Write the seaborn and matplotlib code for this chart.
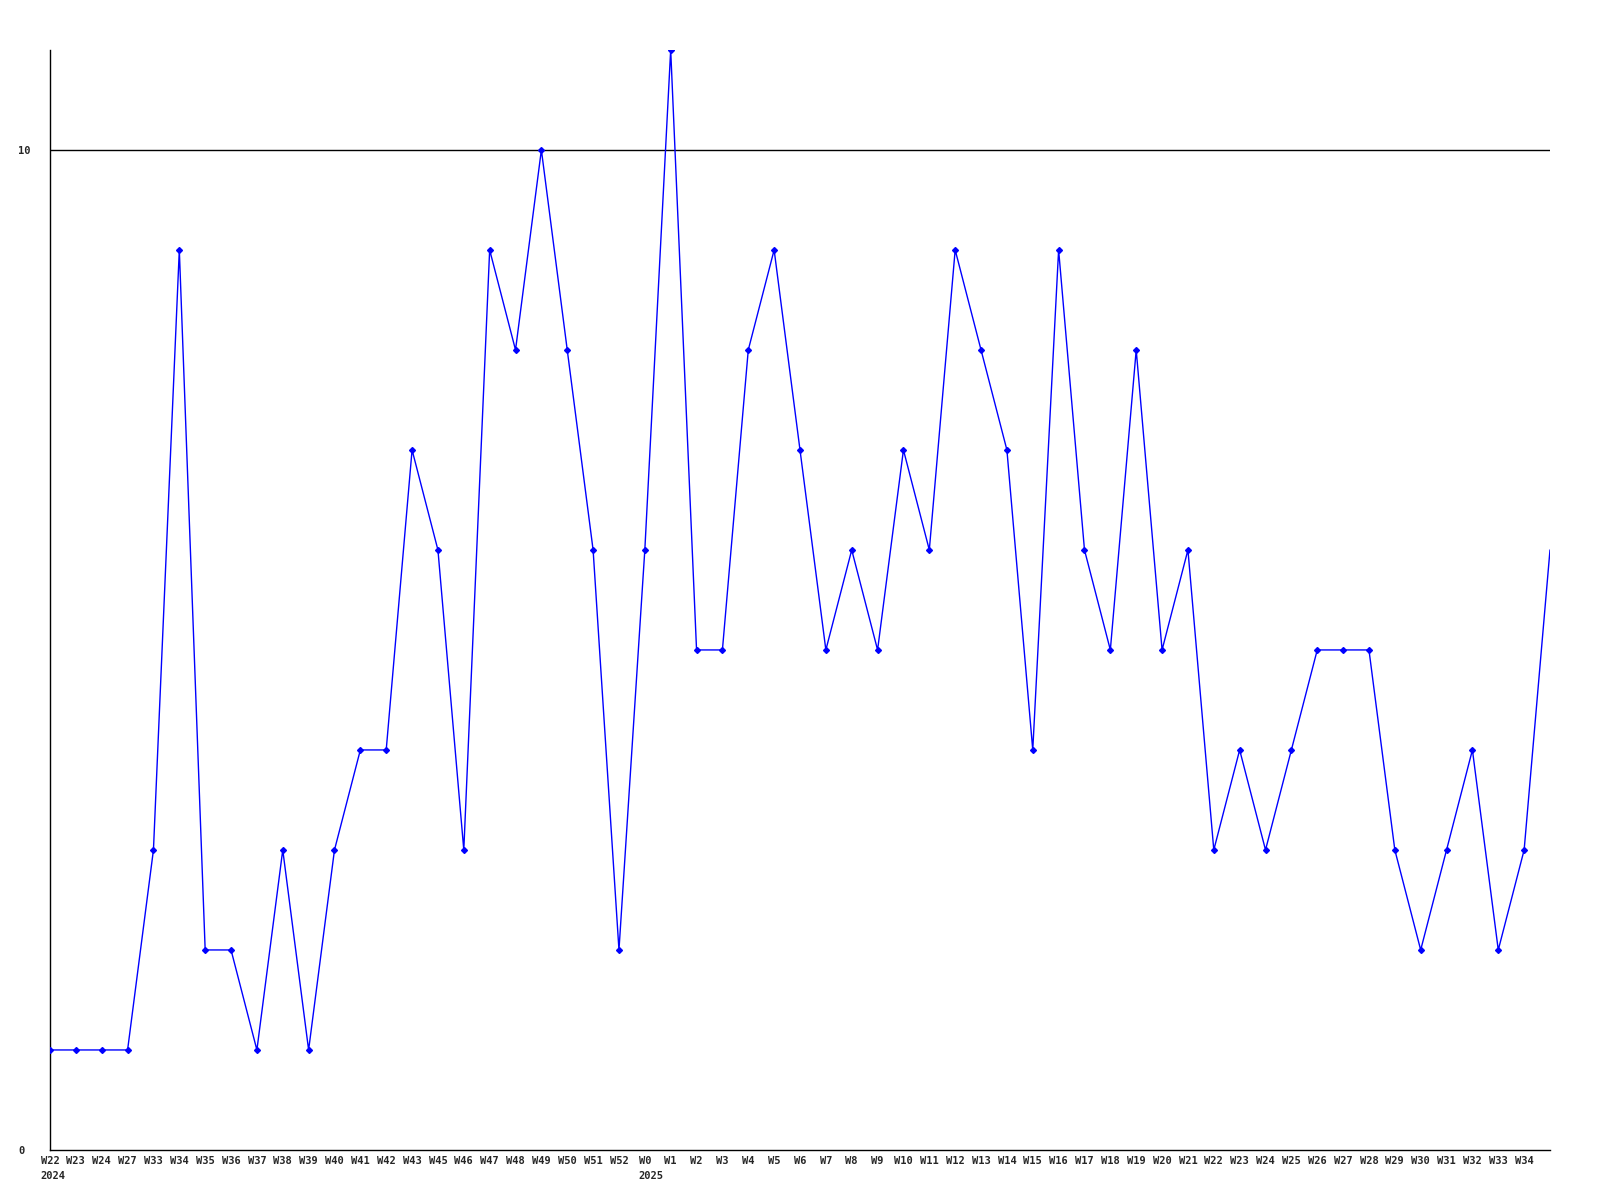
import numpy as np
import pandas as pd
import matplotlib
matplotlib.use("Agg")
import matplotlib.pyplot as plt
import seaborn as sns

# ---------------------------------------------------------
# DATA
# ---------------------------------------------------------

weeks_2024 = ["W22", "W23", "W24", "W27", "W33", "W34", "W35", "W36", "W37", "W38",
              "W39", "W40", "W41", "W42", "W43", "W45", "W46", "W47", "W48", "W49",
              "W50", "W51", "W52"]
weeks_2025 = ["W" + str(i) for i in range(0, 35)]

values_2024 = [1, 1, 1, 1, 3, 9, 2, 2, 1, 3,
               1, 3, 4, 4, 7, 6, 3, 9, 8, 10,
               8, 6, 2]
values_2025 = [6, 11, 5, 5, 8, 9, 7, 5, 6, 5,
               7, 6, 9, 8, 7, 4, 9, 6, 5, 8,
               5, 6, 3, 4, 3, 4, 5, 5, 5, 3,
               2, 3, 4, 2, 3]
# current (unlabelled) week at the right edge
value_current = 6

labels = weeks_2024 + weeks_2025
values = values_2024 + values_2025 + [value_current]
years = {0: "2024", len(weeks_2024): "2025"}

df = pd.DataFrame({"idx": np.arange(len(values)), "count": values})

# ---------------------------------------------------------
# PLOT
# ---------------------------------------------------------

sns.set_style("white")
plt.rcParams["font.family"] = ["DejaVu Sans Mono", "DejaVu Sans"]

fig = plt.figure(figsize=(16, 12), dpi=100)
ax = fig.add_axes([0.03125, 0.0417, 0.9375, 0.9167])

ax.axhline(10, color="black", linewidth=1, zorder=1)

sns.lineplot(data=df, x="idx", y="count", ax=ax, color="#0000ff",
             linewidth=1, marker="D", markersize=3, markeredgewidth=1,
             markeredgecolor="#0000ff",
             markevery=list(range(len(values) - 1)), zorder=3)

ax.set_xlim(0, len(values) - 1)
ax.set_ylim(0, 11)

fs = 7.5
char_w = 0.602 * fs  # monospace glyph advance in points

ax.set_xticks(list(range(len(labels))))
ax.set_xticklabels(labels, fontsize=fs, fontweight="bold")
ax.set_yticks([0, 10])
ax.set_yticklabels(["0", "10"], fontsize=fs, fontweight="bold",
                   ha="left")
ax.tick_params(axis="y", length=0, pad=22.7)
ax.tick_params(axis="x", length=0, pad=4)

# year labels under the first week of each year, left aligned with it
for i, yr in years.items():
    ax.annotate(yr, xy=(i, 0), xycoords=("data", "axes fraction"),
                xytext=(-len(labels[i]) * char_w / 2, -15),
                textcoords="offset points", ha="left", va="top",
                fontsize=fs, fontweight="bold", annotation_clip=False)

ax.set_xlabel("")
ax.set_ylabel("")
for side in ["top", "right"]:
    ax.spines[side].set_visible(False)
for side in ["left", "bottom"]:
    ax.spines[side].set_color("black")
    ax.spines[side].set_linewidth(1)

fig.savefig("out.png", dpi=100)
